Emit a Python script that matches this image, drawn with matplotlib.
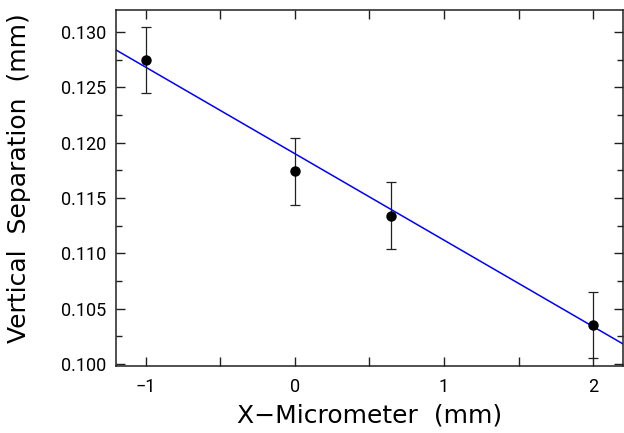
import matplotlib
matplotlib.use("Agg")
import matplotlib.pyplot as plt
from matplotlib.ticker import MultipleLocator

# Measurements: micrometer position vs. vertical separation
x_pos = [-1.0, 0.0, 0.643, 2.0]
separation = [0.1275, 0.1174, 0.1134, 0.1035]
sep_err = [0.003, 0.003, 0.003, 0.003]

# Linear fit parameters
fit_slope = -0.00782
fit_intercept = 0.1190

plt.rcParams['font.family'] = ['Roboto', 'DejaVu Sans']

fig = plt.figure(figsize=(6.24, 4.33), dpi=100)
ax = fig.add_axes([116 / 624, 1 - 366 / 433, (623 - 116) / 624, (366 - 10) / 433])

xlim = (-1.2, 2.2)
ax.set_xlim(*xlim)
ax.set_ylim(0.0998, 0.1320)

ax.plot(list(xlim), [fit_intercept + fit_slope * xv for xv in xlim],
        color='#0000ff', lw=1.1, zorder=2)
ax.errorbar(x_pos, separation, yerr=sep_err, fmt='o', color='black',
            ms=6.5, ecolor='#202020', elinewidth=0.9, capsize=3.5,
            capthick=0.9, zorder=3)

ax.xaxis.set_major_locator(MultipleLocator(1))
ax.xaxis.set_minor_locator(MultipleLocator(0.5))
ax.yaxis.set_major_locator(MultipleLocator(0.005))
ax.yaxis.set_minor_locator(MultipleLocator(0.0025))
ax.yaxis.set_major_formatter(matplotlib.ticker.FormatStrFormatter('%.3f'))

ax.tick_params(which='both', direction='in', top=True, right=True,
               width=1.0, color='#202020')
ax.tick_params(axis='x', which='both', length=6.5, pad=9, labelsize=13)
ax.tick_params(axis='y', which='major', length=6.5, pad=7, labelsize=13)
ax.tick_params(axis='y', which='minor', length=4)

for sp in ax.spines.values():
    sp.set_linewidth(1.1)
    sp.set_color('#202020')

label_font = ['DejaVu Sans']
ax.set_xlabel('X\u2212Micrometer  (mm)', fontsize=18, family=label_font,
              labelpad=5)
ax.set_ylabel('Vertical  Separation  (mm)', fontsize=18, family=label_font)
ax.yaxis.set_label_coords(-0.168, 0.527)

fig.savefig('out.png', dpi=100)
